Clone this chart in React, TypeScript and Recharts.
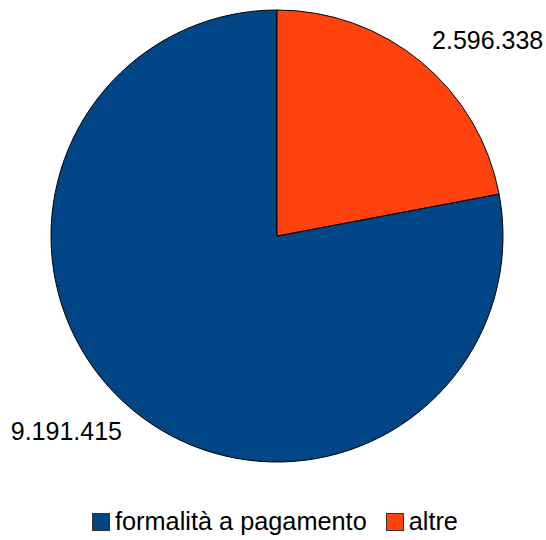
import { Cell, Legend, Pie, PieChart } from "recharts";

// Valori
const categories = ["formalità a pagamento", "altre"];
const values = [9191415, 2596338];
const valueLabels = ["9.191.415", "2.596.338"];

const COLORS = ["#004586", "#ff420e"];
const FONT = "'Liberation Sans', Arial, sans-serif";
const RADIAN = Math.PI / 180;

const data = categories.map((name, i) => ({
  name,
  value: values[i],
  label: valueLabels[i],
}));

// la fetta "altre" parte dalle ore 12 e va in senso orario
const total = values.reduce((a, b) => a + b, 0);
const START = 90 - (360 * values[1]) / total;

function renderLabel(props: any) {
  const { cx, cy, midAngle, outerRadius, index } = props;
  const r = outerRadius + 17;
  const x = cx + r * Math.cos(-midAngle * RADIAN);
  const y = cy + r * Math.sin(-midAngle * RADIAN);
  const right = x > cx;
  const top = y < cy;
  return (
    <text
      x={x}
      y={top ? y : y + 17}
      textAnchor={right ? "start" : "end"}
      fill="#000"
      fontSize={25}
      fontFamily={FONT}
    >
      {data[index].label}
    </text>
  );
}

function renderLegend() {
  return (
    <div style={{ display: "flex", alignItems: "center", fontFamily: FONT, fontSize: 25.3 }}>
      {categories.map((c, i) => (
        <div key={c} style={{ display: "flex", alignItems: "center", marginRight: 19 }}>
          <span
            style={{
              display: "inline-block",
              width: 16,
              height: 16,
              background: COLORS[i],
              border: "1px solid #333",
              marginRight: 5,
            }}
          />
          <span style={{ color: "#000", lineHeight: "25px" }}>{c}</span>
        </div>
      ))}
    </div>
  );
}

export default function App() {
  return (
    <div style={{ position: "absolute", left: 0, top: 0, width: 546, height: 540, background: "#fff" }}>
      <PieChart width={546} height={540} margin={{ top: 0, right: 0, bottom: 0, left: 0 }}>
        <Pie
          data={data}
          dataKey="value"
          nameKey="name"
          cx={277}
          cy={236}
          outerRadius={226}
          startAngle={START}
          endAngle={START - 360}
          stroke="#000"
          strokeWidth={1}
          label={renderLabel}
          labelLine={false}
          isAnimationActive={false}
        >
          {data.map((d, i) => (
            <Cell key={d.name} fill={COLORS[i]} />
          ))}
        </Pie>
        <Legend
          content={renderLegend}
          wrapperStyle={{ position: "absolute", left: 92, top: 509, width: 454 }}
        />
      </PieChart>
    </div>
  );
}
